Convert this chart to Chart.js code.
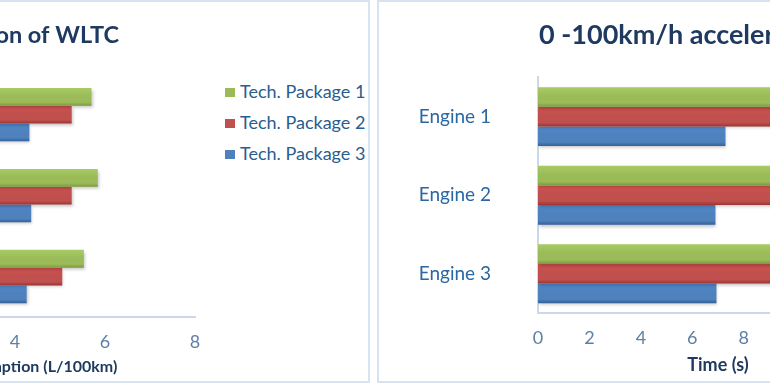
<!DOCTYPE html>
<html>
<head>
<meta charset="utf-8">
<script src="https://cdn.jsdelivr.net/npm/chart.js@4.4.1/dist/chart.umd.min.js"></script>
<style>
  html, body { margin: 0; padding: 0; background: #fff; }
  body { width: 770px; height: 385px; overflow: hidden; position: relative; font-family: Lato, sans-serif; }
  .panel { position: absolute; top: 0; height: 379px; border: 2px solid #d7e3f1; background: #fff; }
  #panelA { left: -400px; width: 766px; }
  #panelB { left: 377px; width: 766px; }
  .wrap { position: absolute; top: 0; height: 385px; }
  #wrapA { left: -400px; width: 615px; }
  #wrapB { left: 378px; width: 540px; }
  .legend { position: absolute; left: 225px; top: 78px; }
  .legend div { height: 31px; line-height: 26px; font-size: 18px; color: #2a5d8f; white-space: nowrap; }
  .legend span { display: inline-block; width: 10px; height: 9px; margin-right: 5px; vertical-align: 1px; }
</style>
</head>
<body>
<div class="panel" id="panelA"></div>
<div class="panel" id="panelB"></div>
<div class="wrap" id="wrapA"><canvas id="wltcChart"></canvas></div>
<div class="wrap" id="wrapB"><canvas id="accelChart"></canvas></div>
<div class="legend" id="legendA"></div>
<script>
// values
const seriesNames = ['Tech. Package 1', 'Tech. Package 2', 'Tech. Package 3'];
const engineLabels = ['Engine 1', 'Engine 2', 'Engine 3'];

const wltcPkg1 = [5.70, 5.84, 5.53];
const wltcPkg2 = [5.26, 5.26, 5.05];
const wltcPkg3 = [4.32, 4.36, 4.26];

const accelPkg1 = [11.7, 11.9, 11.4];
const accelPkg2 = [10.8, 10.9, 10.5];
const accelPkg3 = [7.29, 6.90, 6.94];

// [top, base, bottom] shades per series
const shades = [
    ['#a8cb62', '#9bbb59', '#7d9a3e'],
    ['#d0524f', '#c0504d', '#9c3431'],
    ['#5088cc', '#4f81bd', '#325f99']
];

const titleColor = '#1f3a60';
const tickColor = '#5f7fa3';
const labelColor = '#2a67a3';
const axisLine = '#c9d8ea';

// html legend for the left chart
const legendA = document.getElementById('legendA');
seriesNames.forEach((name, i) => {
    const row = document.createElement('div');
    row.innerHTML = '<span style="background:' + shades[i][1] + '"></span>' + name;
    legendA.appendChild(row);
});

function shade(i, catPct) {
    return (c) => {
        const chart = c.chart;
        const y = chart.scales.y;
        if (!chart.chartArea || !y || c.dataIndex === undefined) return shades[i][1];
        const step = Math.abs(y.getPixelForValue(1) - y.getPixelForValue(0)) || 80;
        const thick = step * catPct / 3;
        const top = y.getPixelForValue(c.dataIndex) - step * catPct / 2 + i * thick;
        const g = chart.ctx.createLinearGradient(0, top, 0, top + thick);
        g.addColorStop(0, shades[i][0]);
        g.addColorStop(0.45, shades[i][1]);
        g.addColorStop(0.8, shades[i][1]);
        g.addColorStop(1, shades[i][2]);
        return g;
    };
}

// soft drop shadow under the bars
const barShadow = {
    id: 'barShadow',
    beforeDatasetsDraw(chart) {
        const ctx = chart.ctx;
        ctx.save();
        ctx.shadowColor = 'rgba(0, 0, 0, 0.22)';
        ctx.shadowBlur = 3;
        ctx.shadowOffsetX = 1;
        ctx.shadowOffsetY = 2;
    },
    afterDatasetsDraw(chart) {
        chart.ctx.restore();
    }
};

function makeChart(id, o) {
    const ds = o.series.map((data, i) => ({
        label: seriesNames[i],
        data: data,
        backgroundColor: shade(i, o.catPct),
        borderWidth: 0,
        categoryPercentage: o.catPct,
        barPercentage: 1
    }));
    return new Chart(document.getElementById(id), {
        type: 'bar',
        data: { labels: engineLabels, datasets: ds },
        plugins: [barShadow],
        options: {
            indexAxis: 'y',
            responsive: true,
            maintainAspectRatio: false,
            animation: false,
            layout: { padding: { left: 0, right: 20, top: 0, bottom: 0 } },
            plugins: {
                legend: { display: false },
                tooltip: { enabled: false },
                title: {
                    display: true,
                    text: o.title,
                    fullSize: false,
                    color: titleColor,
                    font: { family: 'Lato', size: o.titleSize, weight: 'bold' },
                    padding: { top: o.titleTop, bottom: o.titleGap }
                }
            },
            scales: {
                x: {
                    min: 0,
                    max: o.max,
                    ticks: { stepSize: 2, color: tickColor, padding: 6, font: { family: 'Lato', size: 18 } },
                    grid: { display: false },
                    border: { display: true, color: axisLine, width: 2 },
                    title: {
                        display: true,
                        text: o.axisTitle,
                        color: titleColor,
                        font: { family: 'Lato', size: o.axisTitleSize, weight: 'bold' },
                        padding: { top: 0, bottom: o.axisTitlePad }
                    },
                    afterFit: (s) => { s.height = o.xHeight; }
                },
                y: {
                    ticks: { color: labelColor, padding: 39, font: { family: 'Lato', size: 19 } },
                    grid: { display: false },
                    border: { display: true, color: axisLine, width: 2 },
                    afterFit: (s) => { s.width = o.yWidth; }
                }
            }
        }
    });
}

makeChart('wltcChart', {
    series: [wltcPkg1, wltcPkg2, wltcPkg3],
    max: 8,
    catPct: 0.66,
    title: 'Simulation of WLTC',
    titleSize: 23.5,
    titleTop: 21,
    titleGap: 25,
    axisTitle: 'Fuel consumption (L/100km)',
    axisTitleSize: 16,
    axisTitlePad: 9,
    xHeight: 68,
    yWidth: 235
});

makeChart('accelChart', {
    series: [accelPkg1, accelPkg2, accelPkg3],
    max: 14,
    catPct: 0.75,
    title: '0 -100km/h acceleration time',
    titleSize: 27,
    titleTop: 19,
    titleGap: 26,
    axisTitle: 'Time (s)',
    axisTitleSize: 18,
    axisTitlePad: 9,
    xHeight: 72,
    yWidth: 160
});
</script>
</body>
</html>
